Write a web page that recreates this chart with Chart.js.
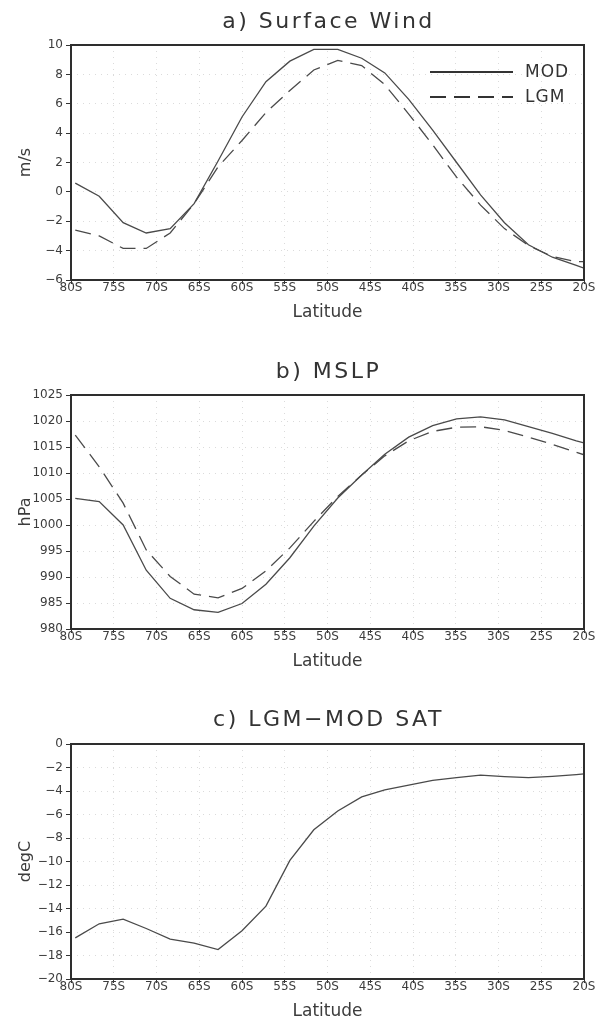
<!DOCTYPE html>
<html>
<head>
<meta charset="utf-8">
<script src="https://cdn.jsdelivr.net/npm/chart.js@4/dist/chart.umd.min.js"></script>
<style>
  body { margin: 0; background: #fff; width: 602px; height: 1024px; position: relative; overflow: hidden; }
  canvas { position: absolute; left: 0; }
</style>
</head>
<body>
<canvas id="wind" width="602" height="340" style="top:0"></canvas>
<canvas id="mslp" width="602" height="350" style="top:340px"></canvas>
<canvas id="sat" width="602" height="334" style="top:690px"></canvas>
<script>
// model grid latitudes (deg, negative = south)
const lats = [-79.5, -76.7, -73.9, -71.2, -68.4, -65.6, -62.8, -60.0, -57.2, -54.4, -51.6, -48.8,
              -46.0, -43.3, -40.5, -37.7, -34.9, -32.1, -29.3, -26.5, -23.7, -20.9, -20.0];
const latTicks = [-80, -75, -70, -65, -60, -55, -50, -45, -40, -35, -30, -25, -20];
const latTickLabels = ['80S', '75S', '70S', '65S', '60S', '55S', '50S', '45S', '40S', '35S', '30S', '25S', '20S'];

// a) surface wind, m/s
const windMOD = [0.6, -0.3, -2.1, -2.8, -2.5, -0.8, 2.1, 5.1, 7.5, 8.9, 9.7, 9.7,
                 9.1, 8.1, 6.3, 4.2, 2.0, -0.2, -2.1, -3.6, -4.45, -5.0, -5.2];
const windLGM = [-2.6, -3.0, -3.85, -3.85, -2.8, -0.8, 1.7, 3.5, 5.4, 6.9, 8.3, 8.95,
                 8.6, 7.3, 5.3, 3.2, 1.0, -0.9, -2.5, -3.65, -4.4, -4.75, -4.75];
const windTicks = [-6, -4, -2, 0, 2, 4, 6, 8, 10];

// b) MSLP, hPa
const slpMOD = [1005.1, 1004.5, 1000.0, 991.3, 985.9, 983.7, 983.2, 984.9, 988.6, 993.7, 999.8, 1005.2,
                1009.6, 1013.6, 1016.9, 1019.1, 1020.4, 1020.8, 1020.2, 1018.9, 1017.6, 1016.2, 1015.8];
const slpLGM = [1017.3, 1011.2, 1004.2, 995.2, 990.1, 986.7, 986.0, 987.8, 991.2, 995.6, 1000.7, 1005.5,
                1009.6, 1013.3, 1016.2, 1018.0, 1018.8, 1018.9, 1018.2, 1016.9, 1015.5, 1014.0, 1013.5];
const slpTicks = [980, 985, 990, 995, 1000, 1005, 1010, 1015, 1020, 1025];

// c) LGM - MOD surface air temperature, degC
const satDiff = [-16.5, -15.3, -14.9, -15.7, -16.6, -16.95, -17.5, -15.9, -13.8, -9.9, -7.3, -5.7,
                 -4.5, -3.9, -3.5, -3.1, -2.87, -2.65, -2.78, -2.87, -2.75, -2.6, -2.55];
const satTicks = [-20, -18, -16, -14, -12, -10, -8, -6, -4, -2, 0];

const INK = '#3c3c3c';
const FONT = '"DejaVu Sans", sans-serif';

// box round the plot, centred title, and the in-plot legend
const frame = {
  id: 'frame',
  afterDatasetsDraw(chart, args, opts) {
    const { ctx, chartArea: a } = chart;
    ctx.save();
    ctx.strokeStyle = '#2e2e2e';
    ctx.lineWidth = 2;
    ctx.strokeRect(a.left, a.top, a.right - a.left, a.bottom - a.top);

    ctx.fillStyle = '#333';
    ctx.font = '22px ' + FONT;
    ctx.letterSpacing = '2.5px';
    ctx.textAlign = 'center';
    ctx.textBaseline = 'middle';
    ctx.fillText(opts.title, (a.left + a.right) / 2 + 1, opts.titleY);

    if (opts.legend) {
      ctx.font = '17px ' + FONT;
      ctx.letterSpacing = '1px';
      ctx.textAlign = 'left';
      chart.data.datasets.forEach((ds, i) => {
        const y = a.top + 27 + i * 25;
        ctx.beginPath();
        ctx.setLineDash(ds.borderDash || []);
        ctx.strokeStyle = '#333';
        ctx.lineWidth = 1.8;
        ctx.moveTo(a.right - 154, y);
        ctx.lineTo(a.right - 71, y);
        ctx.stroke();
        ctx.setLineDash([]);
        ctx.fillText(ds.label, a.right - 59, y + 1);
      });
    }
    ctx.restore();
  }
};

const minus = v => String(v).replace('-', '\u2212');

function panel(id, top, height, plotTop, plotBottom, o) {
  const xAxisH = top + height - plotBottom;
  return new Chart(document.getElementById(id), {
    type: 'line',
    data: { datasets: o.datasets },
    plugins: [frame],
    options: {
      responsive: false,
      animation: false,
      events: [],
      layout: { padding: { left: 0, right: 18, top: plotTop - top, bottom: 0 } },
      plugins: {
        legend: { display: false },
        tooltip: { enabled: false },
        frame: { title: o.title, titleY: o.titleY - top, legend: !!o.legend }
      },
      scales: {
        x: {
          type: 'linear', min: -80, max: -20,
          afterBuildTicks: s => { s.ticks = latTicks.map(v => ({ value: v })); },
          afterFit: s => { s.height = xAxisH; },
          ticks: {
            color: INK, font: { family: FONT, size: 12 }, padding: -3, maxRotation: 0, autoSkip: false,
            callback: v => latTickLabels[latTicks.indexOf(v)]
          },
          grid: { color: 'rgba(0,0,0,0.14)', tickColor: '#333', tickLength: 4, drawTicks: true },
          border: { display: false, dash: [1, 5] },
          title: {
            display: true, text: 'Latitude', color: INK,
            font: { family: FONT, size: 17 },
            padding: { top: 0, bottom: top + height - o.xTitleY - 10.2 }
          }
        },
        y: {
          type: 'linear', min: o.yTicks[0], max: o.yTicks[o.yTicks.length - 1],
          afterBuildTicks: s => { s.ticks = o.yTicks.map(v => ({ value: v })); },
          afterFit: s => { s.width = 71; },
          ticks: { color: INK, font: { family: FONT, size: 12 }, padding: 3, callback: minus },
          grid: { color: 'rgba(0,0,0,0.14)', tickColor: '#333', tickLength: 5 },
          border: { display: false, dash: [1, 5] },
          title: {
            display: true, text: o.yTitle, color: INK,
            font: { family: FONT, size: 16 },
            padding: { top: 16, bottom: 0 }
          }
        }
      }
    }
  });
}

const line = (label, ys, dash) => ({
  label,
  data: lats.map((x, i) => ({ x, y: ys[i] })),
  borderColor: '#4a4a4a',
  borderWidth: 1.3,
  borderDash: dash,
  pointRadius: 0,
  tension: 0,
  fill: false
});

panel('wind', 0, 340, 45, 280, {
  title: 'a) Surface Wind', titleY: 22, xTitleY: 313, yTitle: 'm/s', yTicks: windTicks, legend: true,
  datasets: [line('MOD', windMOD, []), line('LGM', windLGM, [16, 8])]
});

panel('mslp', 340, 350, 395, 629, {
  title: 'b) MSLP', titleY: 372, xTitleY: 662, yTitle: 'hPa', yTicks: slpTicks,
  datasets: [line('MOD', slpMOD, []), line('LGM', slpLGM, [16, 8])]
});

panel('sat', 690, 334, 744, 979, {
  title: 'c) LGM\u2212MOD SAT', titleY: 720, xTitleY: 1012, yTitle: 'degC', yTicks: satTicks,
  datasets: [line('LGM-MOD', satDiff, [])]
});
</script>
</body>
</html>
